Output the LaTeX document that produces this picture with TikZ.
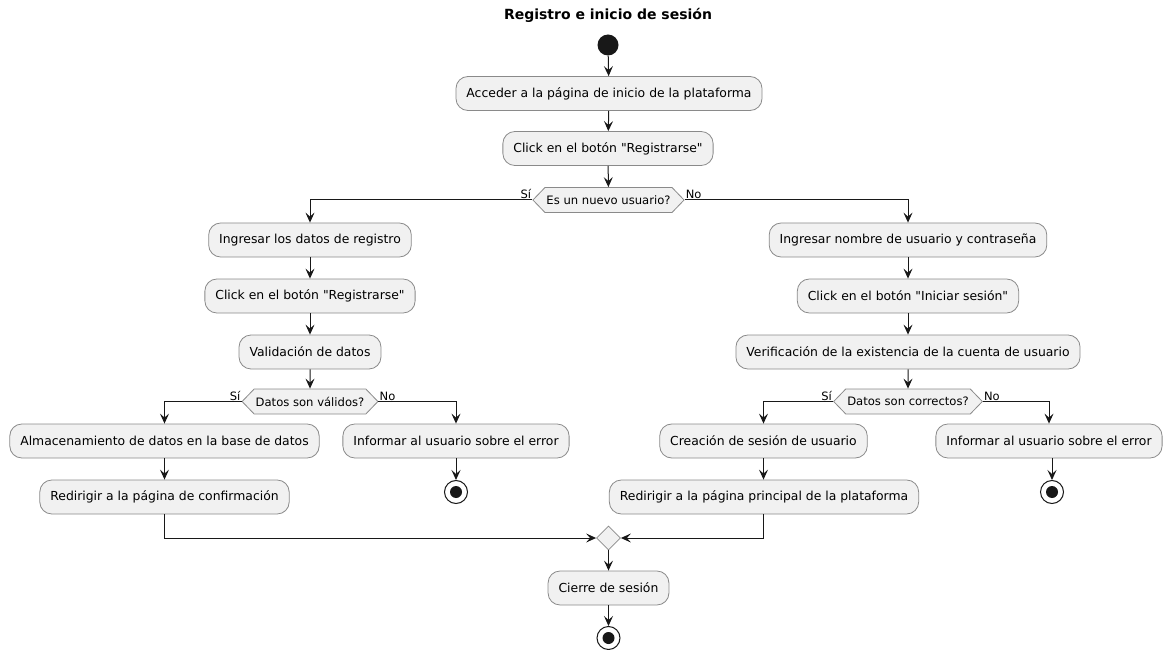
\documentclass[tikz,border=0pt]{standalone}
\usepackage{fontspec}
\setmainfont{DejaVu Sans}[Ligatures=TeXOff]
\usetikzlibrary{arrows.meta,shapes.symbols,shapes.geometric}
\definecolor{boxfill}{HTML}{F1F1F1}
\definecolor{boxline}{HTML}{8A8A8A}
\definecolor{ink}{HTML}{181818}
\begin{document}
\begin{tikzpicture}[x=1pt,y=-1pt,
  action/.style={draw=boxline, fill=boxfill, rounded corners=12pt, minimum height=34pt,
    inner xsep=10.5pt, font=\fontsize{12.4}{14}\selectfont, line width=0.8pt},
  choice/.style={draw=boxline, fill=boxfill, signal, signal to=west and east,
    signal pointer angle=92, minimum height=25pt, inner xsep=1.5pt, inner ysep=0pt,
    font=\fontsize{11.6}{13}\selectfont, line width=0.8pt},
  merger/.style={draw=boxline, fill=boxfill, diamond, minimum width=24pt,
    minimum height=24pt, inner sep=0pt, line width=0.8pt},
  startdot/.style={circle, fill=ink, minimum size=21pt, inner sep=0pt},
  stopdot/.style={circle, draw=ink, fill=white, line width=1pt, minimum size=23pt,
    inner sep=0pt, path picture={\fill[ink] (path picture bounding box.center) circle (6pt);}},
  lbl/.style={font=\fontsize{11.5}{13}\selectfont, inner sep=1pt},
  flow/.style={draw=ink, line width=1pt, -{Stealth[length=10pt,width=9pt,inset=4pt]}}]
\useasboundingbox (0,0) rectangle (1163,650);

\node[font=\bfseries\fontsize{14}{16}\selectfont] (title) at (608,15) {Registro e inicio de sesión};

% main column
\node[startdot] (start) at (608,45) {};
\node[action] (b1) at (609,93.5) {Acceder a la página de inicio de la plataforma};
\node[action] (b2) at (608,148.5) {Click en el botón "Registrarse"};
\node[choice] (q1) at (608.5,200) {Es un nuevo usuario?};

% registration branch
\node[action] (l1) at (310,240) {Ingresar los datos de registro};
\node[action] (l2) at (310,296) {Click en el botón "Registrarse"};
\node[action] (l3) at (310,352) {Validación de datos};
\node[choice] (q2) at (310,401.5) {Datos son válidos?};
\node[action] (l4) at (164.5,441) {Almacenamiento de datos en la base de datos};
\node[action] (l5) at (164.5,497) {Redirigir a la página de confirmación};
\node[action] (l6) at (456,441) {Informar al usuario sobre el error};
\node[stopdot] (lend) at (456,492) {};

% login branch
\node[action] (r1) at (908,240) {Ingresar nombre de usuario y contraseña};
\node[action] (r2) at (908,296) {Click en el botón "Iniciar sesión"};
\node[action] (r3) at (908,352) {Verificación de la existencia de la cuenta de usuario};
\node[choice] (q3) at (908,401.5) {Datos son correctos?};
\node[action] (r4) at (763.5,441) {Creación de sesión de usuario};
\node[action] (r5) at (764,497) {Redirigir a la página principal de la plataforma};
\node[action] (r6) at (1049,441) {Informar al usuario sobre el error};
\node[stopdot] (rend) at (1052,492) {};

% closing
\node[merger] (merge) at (608.5,538) {};
\node[action] (close) at (608.5,588) {Cierre de sesión};
\node[stopdot] (fin) at (608.5,638) {};

% branch labels
\node[lbl, anchor=south east] (q1yes) at (q1.west) {Sí};
\node[lbl, anchor=south west] (q1no) at (q1.east) {No};
\node[lbl, anchor=south east] (q2yes) at (q2.west) {Sí};
\node[lbl, anchor=south west] (q2no) at (q2.east) {No};
\node[lbl, anchor=south east] (q3yes) at (q3.west) {Sí};
\node[lbl, anchor=south west] (q3no) at (q3.east) {No};

% connectors
\draw[flow] (start) -- (b1);
\draw[flow] (b1) -- (b2);
\draw[flow] (b2) -- (q1);
\draw[flow] (q1.west) -| (l1.north);
\draw[flow] (q1.east) -| (r1.north);

\draw[flow] (l1) -- (l2);
\draw[flow] (l2) -- (l3);
\draw[flow] (l3) -- (q2);
\draw[flow] (q2.west) -| (l4.north);
\draw[flow] (q2.east) -| (l6.north);
\draw[flow] (l4) -- (l5);
\draw[flow] (l6) -- (lend);

\draw[flow] (r1) -- (r2);
\draw[flow] (r2) -- (r3);
\draw[flow] (r3) -- (q3);
\draw[flow] (q3.west) -| (r4.north);
\draw[flow] (q3.east) -| (r6.north);
\draw[flow] (r4.south) -- (r4.south |- r5.north);
\draw[flow] (r6.south -| rend) -- (rend);

\draw[flow] (l5.south) |- (merge.west);
\draw[flow] (r5.south -| r4) |- (merge.east);
\draw[flow] (merge) -- (close);
\draw[flow] (close) -- (fin);
\end{tikzpicture}
\end{document}
